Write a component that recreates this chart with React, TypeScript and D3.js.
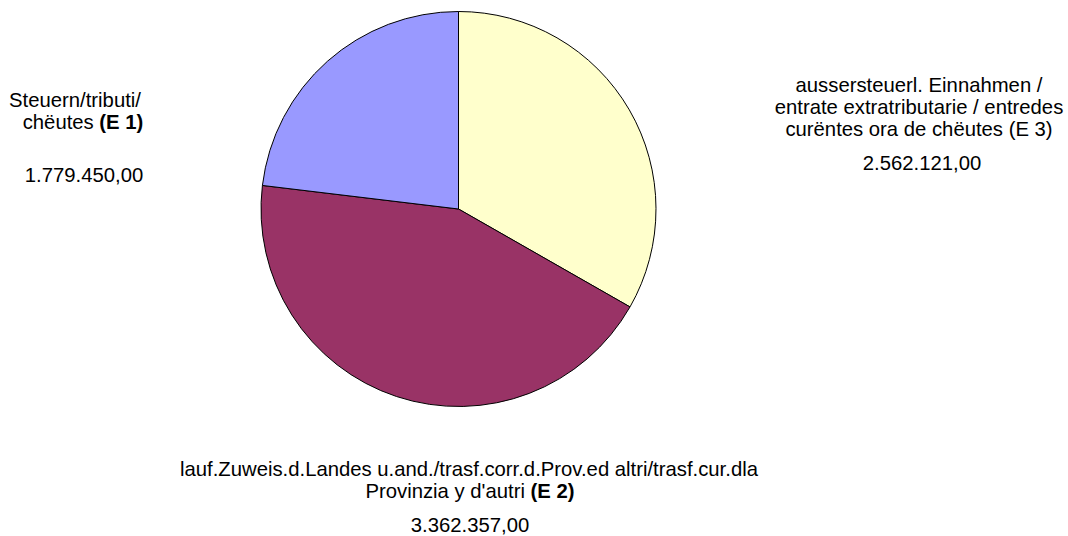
import React from 'react';
import * as d3 from 'd3';

// slices in drawing order, clockwise from 12 o'clock
const codes = ['E 3', 'E 2', 'E 1'];
const values = [2562121, 3362357, 1779450];
const colors = ['#FFFFCC', '#993366', '#9999FF'];

// label lines (plain part, bold part)
const labelLines: Array<Array<[string, string]>> = [
  [
    ['aussersteuerl. Einnahmen /', ''],
    ['entrate extratributarie / entredes', ''],
    ['curëntes ora de chëutes (E 3)', ''],
  ],
  [
    ['lauf.Zuweis.d.Landes u.and./trasf.corr.d.Prov.ed altri/trasf.cur.dla', ''],
    ["Provinzia y d'autri ", '(E 2)'],
  ],
  [
    ['Steuern/tributi/', ''],
    ['chëutes ', '(E 1)'],
  ],
];

const fmt = (v: number) =>
  d3.format(',.2f')(v).replace(/,/g, '#').replace('.', ',').replace(/#/g, '.');

const W = 1068;
const H = 536;
const cx = 458.5;
const cy = 209;
const R = 197.5;
const lineH = 22;

// where each label block sits: center x per line, first baseline, value x / baseline
const labelPos = [
  { xs: [919, 919, 919], y: 92, vx: 922, vy: 170 },
  { xs: [469, 470], y: 476, vx: 470, vy: 532 },
  { xs: [75, 83], y: 107, vx: 84, vy: 182 },
];

const App: React.FC = () => {
  const pie = d3.pie<number>().sort(null).value(d => d);
  const arcs = pie(values);
  const arc = d3.arc<d3.PieArcDatum<number>>().innerRadius(0).outerRadius(R);

  return (
    <svg
      width={W}
      height={H}
      style={{ position: 'fixed', left: 0, top: 0, background: '#fff' }}
      fontFamily="'Liberation Sans', Arial, sans-serif"
      fontSize={20.3}
    >
      <rect width={W} height={H} fill="#fff" />
      <g transform={`translate(${cx},${cy})`}>
        {arcs.map((a, i) => (
          <path key={codes[i]} d={arc(a) || ''} fill={colors[i]} stroke="#000" strokeWidth={1} />
        ))}
      </g>
      {labelLines.map((lines, i) => {
        const p = labelPos[i];
        return (
          <g key={codes[i]} fill="#000" textAnchor="middle">
            {lines.map((ln, j) => (
              <text key={j} x={p.xs[j]} y={p.y + j * lineH}>
                {ln[0]}
                {ln[1] && <tspan fontWeight="bold">{ln[1]}</tspan>}
              </text>
            ))}
            <text x={p.vx} y={p.vy}>{fmt(values[i])}</text>
          </g>
        );
      })}
    </svg>
  );
};

export default App;
